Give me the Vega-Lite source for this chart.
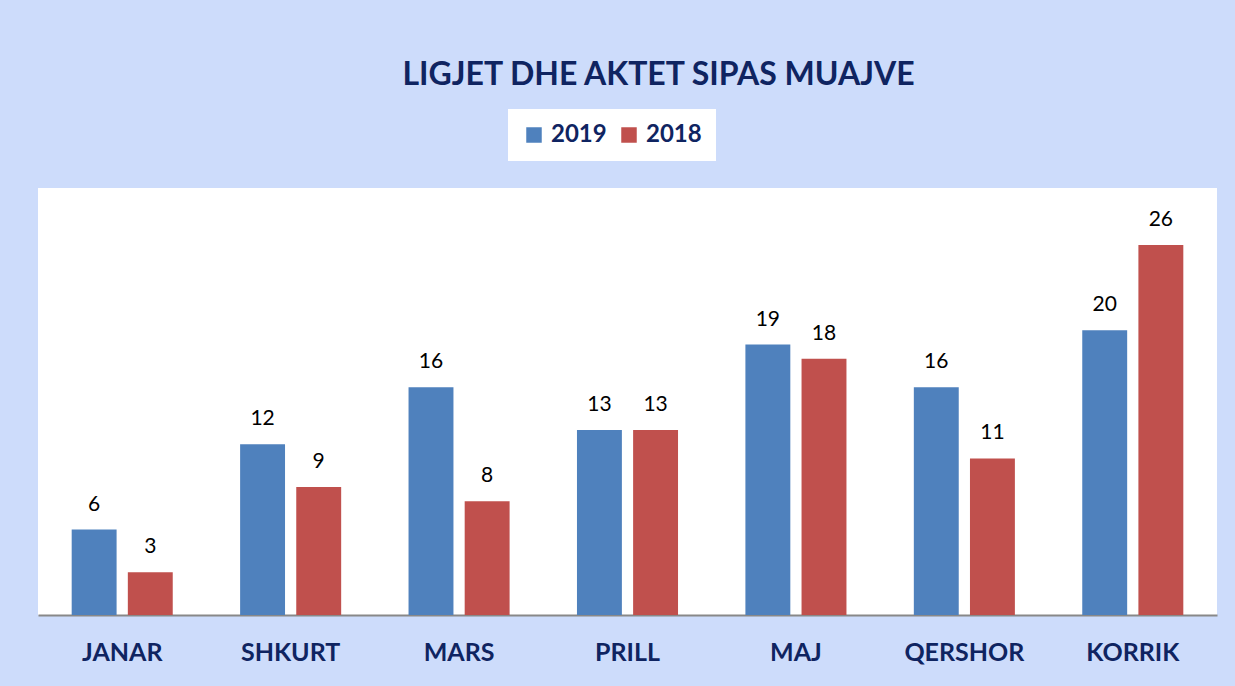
{
  "$schema": "https://vega.github.io/schema/vega-lite/v6.json",
  "autosize": "none",
  "width": 1179,
  "height": 427,
  "padding": {"left": 38, "top": 188, "right": 18, "bottom": 71},
  "background": "#cddcfb",
  "view": {"fill": "white", "stroke": null},
  "title": {
    "text": "LIGJET DHE AKTET SIPAS MUAJVE",
    "font": "Lato",
    "fontSize": 32,
    "fontWeight": "bold",
    "color": "#0f2461",
    "anchor": "middle",
    "dx": 31,
    "offset": 17
  },
  "data": {
    "values": [
      {"month": "JANAR", "year": "2019", "value": 6},
      {"month": "JANAR", "year": "2018", "value": 3},
      {"month": "SHKURT", "year": "2019", "value": 12},
      {"month": "SHKURT", "year": "2018", "value": 9},
      {"month": "MARS", "year": "2019", "value": 16},
      {"month": "MARS", "year": "2018", "value": 8},
      {"month": "PRILL", "year": "2019", "value": 13},
      {"month": "PRILL", "year": "2018", "value": 13},
      {"month": "MAJ", "year": "2019", "value": 19},
      {"month": "MAJ", "year": "2018", "value": 18},
      {"month": "QERSHOR", "year": "2019", "value": 16},
      {"month": "QERSHOR", "year": "2018", "value": 11},
      {"month": "KORRIK", "year": "2019", "value": 20},
      {"month": "KORRIK", "year": "2018", "value": 26}
    ]
  },
  "encoding": {
    "x": {
      "field": "month",
      "type": "nominal",
      "sort": null,
      "scale": {"paddingInner": 0.4, "paddingOuter": 0.2},
      "axis": {
        "title": null,
        "labelAngle": 0,
        "ticks": false,
        "domainColor": "#888888",
        "domainWidth": 2,
        "labelFont": "Lato",
        "labelFontSize": 25,
        "labelFontWeight": "bold",
        "labelColor": "#0f2461",
        "labelPadding": 25
      }
    },
    "xOffset": {
      "field": "year",
      "type": "nominal",
      "sort": ["2019", "2018"],
      "scale": {"paddingInner": 0.2, "paddingOuter": 0}
    },
    "y": {
      "field": "value",
      "type": "quantitative",
      "scale": {"domain": [0, 30], "nice": false},
      "axis": null
    }
  },
  "layer": [
    {
      "mark": {"type": "bar"},
      "encoding": {
        "color": {
          "field": "year",
          "type": "nominal",
          "sort": ["2019", "2018"],
          "scale": {"domain": ["2019", "2018"], "range": ["#4f81bd", "#c0504d"]},
          "legend": {
            "title": null,
            "orient": "none",
            "direction": "horizontal",
            "legendX": 470,
            "legendY": -79,
            "fillColor": "white",
            "padding": 14,
            "symbolType": "square",
            "symbolSize": 240,
            "symbolStrokeWidth": 0,
            "symbolOpacity": 1,
            "labelFont": "Lato",
            "labelFontSize": 24,
            "labelFontWeight": "bold",
            "labelColor": "#0f2461",
            "columnPadding": 10,
            "labelOffset": 5
          }
        }
      }
    },
    {
      "mark": {"type": "text", "baseline": "alphabetic", "dy": -19, "font": "Lato", "fontSize": 21, "color": "black"},
      "encoding": {"text": {"field": "value", "type": "quantitative"}}
    }
  ]
}
